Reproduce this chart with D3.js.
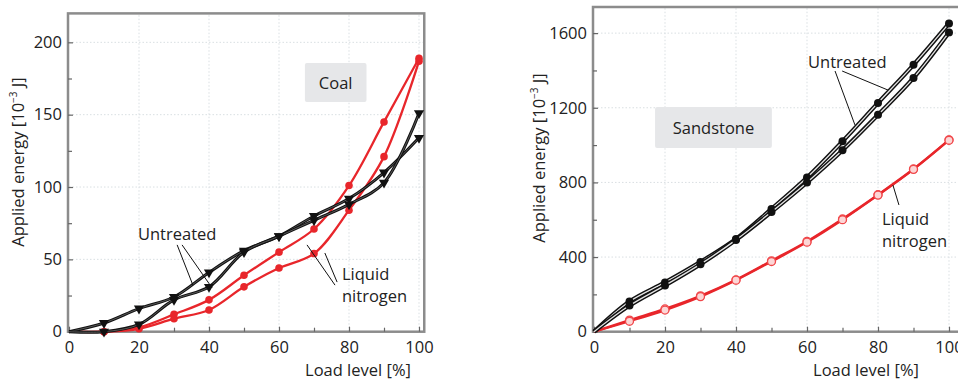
<!DOCTYPE html>
<html>
<head>
<meta charset="utf-8">
<script src="https://cdn.jsdelivr.net/npm/d3@7"></script>
<style>
  body { margin: 0; background: #fff; }
  svg { font-family: 'Open Sans', 'Noto Sans', sans-serif; }
</style>
</head>
<body>
<div id="chart"></div>
<script>
// load levels (%)
var loadLevel = [0, 10, 20, 30, 40, 50, 60, 70, 80, 90, 100];

// Coal, applied energy [10^-3 J]
var coalUntreatedA = [0, 6, 16, 24, 41, 56, 66, 80, 92, 110, 134];
var coalUntreatedB = [0, 0, 5, 22, 31, 55, 66, 77, 88, 103, 151];
var coalNitrogenA = [0, 0, 3, 12, 22, 39, 55, 71, 101, 145, 189];
var coalNitrogenB = [0, 0, 2, 9, 15, 31, 44, 54, 84, 121, 187];

// Sandstone, applied energy [10^-3 J]
var sandUntreatedA = [0, 162, 264, 374, 497, 658, 826, 1020, 1226, 1430, 1652];
var sandUntreatedB = [0, 140, 248, 362, 492, 642, 800, 972, 1162, 1360, 1604];
var sandNitrogenA = [0, 62, 122, 192, 278, 380, 484, 604, 734, 872, 1028];
var sandNitrogenB = [0, 56, 116, 188, 276, 376, 480, 600, 732, 870, 1026];

var coalTicksY = [0, 50, 100, 150, 200];
var sandTicksY = [0, 400, 800, 1200, 1600];
var ticksX = [0, 20, 40, 60, 80, 100];

var width = 958, height = 381;
var FS = '16.5px';
var svg = d3.select('#chart').append('svg')
    .attr('width', width)
    .attr('height', height);

var RED = '#e8262b';

/**
 * one panel of the figure
 */
function drawPanel(p) {
    let x = d3.scaleLinear().domain(p.xDomain).range(p.xRange);
    let y = d3.scaleLinear().domain(p.yDomain).range(p.yRange);
    let g = svg.append('g');

    // dotted grid
    g.append('g').selectAll('line.gx')
        .data(ticksX.slice(1))
        .enter().append('line')
        .attr('x1', d => x(d)).attr('x2', d => x(d))
        .attr('y1', y.range()[0]).attr('y2', y.range()[1])
        .style('stroke', '#d9dfe2').style('stroke-dasharray', '1.5,2');
    g.append('g').selectAll('line.gy')
        .data(p.ticksY.slice(1))
        .enter().append('line')
        .attr('x1', x.range()[0]).attr('x2', x.range()[1])
        .attr('y1', d => y(d)).attr('y2', d => y(d))
        .style('stroke', '#d9dfe2').style('stroke-dasharray', '1.5,2');

    // frame
    g.append('rect')
        .attr('x', x.range()[0] - 1)
        .attr('y', y.range()[1])
        .attr('width', x.range()[1] - x.range()[0] + 1)
        .attr('height', y.range()[0] - y.range()[1])
        .style('fill', 'none')
        .style('stroke', '#8c8c8c')
        .style('stroke-width', 2.5);

    // axes
    let xAxis = g.append('g')
        .attr('transform', 'translate(0,' + y.range()[0] + ')')
        .call(d3.axisBottom(x).tickValues(ticksX).tickSize(-5).tickPadding(10));
    let xMinor = g.append('g')
        .attr('transform', 'translate(0,' + y.range()[0] + ')')
        .call(d3.axisBottom(x).tickValues([10, 30, 50, 70, 90]).tickSize(-4).tickFormat(''));
    let yAxis = g.append('g')
        .attr('transform', 'translate(' + (x.range()[0] - 1) + ',0)')
        .call(d3.axisLeft(y).tickValues(p.ticksY).tickFormat(d3.format('d')).tickSize(-5).tickPadding(6));
    let yMinor = g.append('g')
        .attr('transform', 'translate(' + (x.range()[0] - 1) + ',0)')
        .call(d3.axisLeft(y).tickValues(p.minorY).tickSize(-4).tickFormat(''));
    [xAxis, xMinor, yAxis, yMinor].forEach(a => {
        a.select('.domain').remove();
        a.selectAll('line').style('stroke', '#666').style('stroke-width', 1.2);
        a.selectAll('text').style('font-size', FS).style('fill', '#222')
            .style('font-family', "'Open Sans', sans-serif");
    });

    // axis titles
    let yt = g.append('text')
        .attr('transform', 'translate(' + p.yTitle[0] + ',' + p.yTitle[1] + ') rotate(-90)')
        .attr('text-anchor', 'middle')
        .style('font-size', FS).style('fill', '#222');
    yt.append('tspan').text('Applied energy [10');
    yt.append('tspan').text('\u22123').attr('dy', -7).style('font-size', '10px');
    yt.append('tspan').text(' J]').attr('dy', 7);
    g.append('text')
        .attr('x', p.xTitle[0]).attr('y', p.xTitle[1])
        .attr('text-anchor', 'middle')
        .style('font-size', FS).style('fill', '#222')
        .text('Load level [%]');

    // material box
    g.append('rect')
        .attr('x', x(p.box[0])).attr('y', y(p.box[3]))
        .attr('width', x(p.box[1]) - x(p.box[0]))
        .attr('height', y(p.box[2]) - y(p.box[3]))
        .attr('rx', 2)
        .style('fill', '#e6e7e9');
    g.append('text')
        .attr('x', (x(p.box[0]) + x(p.box[1])) / 2)
        .attr('y', (y(p.box[2]) + y(p.box[3])) / 2 + 6)
        .attr('text-anchor', 'middle')
        .style('font-size', FS).style('fill', '#222')
        .text(p.name);

    let line = d3.line()
        .x(d => x(d[0]))
        .y(d => y(d[1]))
        .curve(d3.curveCatmullRom.alpha(0.5));

    p.series.forEach(s => {
        let pts = loadLevel.map((l, i) => [l, s.values[i]]);
        if (s.black) {
            g.append('path').attr('d', line(pts))
                .style('fill', 'none').style('stroke', '#111').style('stroke-width', p.outerW);
            g.append('path').attr('d', line(pts))
                .style('fill', 'none').style('stroke', p.coreColor).style('stroke-width', p.coreW);
        } else {
            g.append('path').attr('d', line(pts))
                .style('fill', 'none').style('stroke', RED).style('stroke-width', 2.3);
        }
        let m = g.append('g').selectAll('path')
            .data(pts.slice(1))
            .enter().append('path')
            .attr('transform', d => 'translate(' + x(d[0]) + ',' + y(d[1]) + ')' + (s.marker == 'tri' ? ' rotate(180)' : ''))
            .attr('d', d3.symbol().type(s.marker == 'tri' ? d3.symbolTriangle : d3.symbolCircle).size(s.size));
        m.style('fill', s.fill).style('stroke', s.stroke).style('stroke-width', s.sw);
    });

    // annotations
    p.labels.forEach(t => {
        let tx = g.append('text')
            .attr('x', x(t.at[0])).attr('y', y(t.at[1]))
            .style('font-size', FS).style('fill', '#222');
        t.lines.forEach((s, i) => {
            tx.append('tspan').attr('x', x(t.at[0])).attr('dy', i == 0 ? 0 : 22).text(s);
        });
    });
    g.append('g').selectAll('line')
        .data(p.leaders)
        .enter().append('line')
        .attr('x1', d => x(d[0])).attr('y1', d => y(d[1]))
        .attr('x2', d => x(d[2])).attr('y2', d => y(d[3]))
        .style('stroke', '#111').style('stroke-width', 1);
}

drawPanel({
    name: 'Coal',
    xDomain: [0, 101.5], xRange: [69, 424.25],
    yDomain: [0, 220], yRange: [331.7, 13.4],
    ticksY: coalTicksY, minorY: [25, 75, 125, 175],
    yTitle: [24, 162], xTitle: [358, 375.5],
    box: [67.4, 85, 158.7, 185.7],
    outerW: 3, coreColor: '#777', coreW: 0.7,
    series: [
        {values: coalNitrogenA, marker: 'circle', size: 45, fill: RED, stroke: RED, sw: 0},
        {values: coalNitrogenB, marker: 'circle', size: 45, fill: RED, stroke: RED, sw: 0},
        {values: coalUntreatedA, black: true, marker: 'tri', size: 45, fill: '#111', stroke: '#111', sw: 0},
        {values: coalUntreatedB, black: true, marker: 'tri', size: 45, fill: '#111', stroke: '#111', sw: 0}
    ],
    labels: [
        {at: [19.7, 63.4], lines: ['Untreated']},
        {at: [78, 35.7], lines: ['Liquid', 'nitrogen']}
    ],
    leaders: [
        [30.9, 60, 35.4, 32.2], [32.3, 60, 40.9, 30.2],
        [68, 60, 76, 32.2], [73.1, 54.4, 76.6, 34.3]
    ]
});

drawPanel({
    name: 'Sandstone',
    xDomain: [0, 103], xRange: [594, 959.65],
    yDomain: [0, 1740], yRange: [331.7, 7],
    ticksY: sandTicksY, minorY: [200, 600, 1000, 1400],
    yTitle: [545, 158], xTitle: [866, 375.5],
    box: [17.2, 50.1, 984, 1204],
    outerW: 4.2, coreColor: '#e4e4e4', coreW: 1.3,
    series: [
        {values: sandNitrogenA, marker: 'circle', size: 50, fill: '#fcd6d6', stroke: '#f0474a', sw: 1.3},
        {values: sandNitrogenB, marker: 'circle', size: 50, fill: '#fcd6d6', stroke: '#f0474a', sw: 1.3},
        {values: sandUntreatedA, black: true, marker: 'circle', size: 50, fill: '#111', stroke: '#111', sw: 0},
        {values: sandUntreatedB, black: true, marker: 'circle', size: 50, fill: '#111', stroke: '#111', sw: 0}
    ],
    labels: [
        {at: [60.3, 1413], lines: ['Untreated']},
        {at: [81.1, 572], lines: ['Liquid', 'nitrogen']}
    ],
    leaders: [
        [67.9, 1397, 73.5, 1108], [69.9, 1397, 82.8, 1295],
        [84.2, 786, 85.9, 679]
    ]
});
</script>
</body>
</html>
